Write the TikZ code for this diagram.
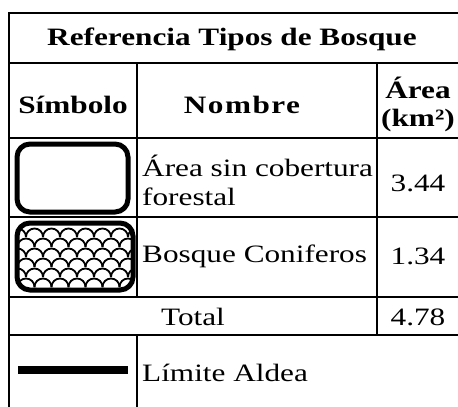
\documentclass[tikz,border=0pt]{standalone}
\usepackage{fontspec}
\setmainfont{Liberation Serif}[FakeStretch=1.25]
\usetikzlibrary{positioning}

\begin{document}
\begin{tikzpicture}[x=1pt,y=-1pt,
    linea/.style={line width=2pt},
    simbolo/.style={line width=5pt,rounded corners=13pt},
    cab/.style={font=\fontsize{25}{28}\selectfont\bfseries,inner sep=0pt,align=center},
    txt/.style={font=\fontsize{25}{29}\selectfont,inner sep=0pt,align=left}]
    \useasboundingbox (0,0) rectangle (458,407);
    % bordes de la tabla
    \foreach \y in {13,63,138,217,297,335}{%
            \draw[linea] (9,\y) -- (458,\y);
        }
    \draw[linea] (9,12) -- (9,407);
    \draw[linea] (137,63) -- (137,297);
    \draw[linea] (137,335) -- (137,407);
    \draw[linea] (377,63) -- (377,335);
    % encabezados
    \node[cab] (titulo) at (232,39) {Referencia Tipos de Bosque};
    \node[cab] (simb) at (73,105) {Símbolo};
    \node[cab] (nombre) at (242,105) {\addfontfeature{LetterSpace=6}Nombre};
    \node[cab] (area) at (418,104) {Área\\(km²)};
    % filas
    \draw[simbolo] (17,144) rectangle (128,212);
    \node[txt,anchor=west] (sincob) at (142,180) {Área sin cobertura\\forestal};
    \node[txt] (v1) at (418,183) {3.44};
    \begin{scope}
        \clip[rounded corners=13pt] (17,223) rectangle (133,290);
        \foreach \r in {0,...,6}{%
                \foreach \c in {0,...,8}{%
                        \draw[line width=1.8pt] ({9+\c*17+mod(\r,2)*8.5},{237+\r*10}) arc[start angle=180,end angle=360,radius=8.5];
                    }
            }
    \end{scope}
    \draw[simbolo] (17,223) rectangle (133,290);
    \node[txt,anchor=west] (conif) at (142,256) {Bosque Coniferos};
    \node[txt] (v2) at (418,256) {1.34};
    \node[txt] (total) at (193,317) {Total};
    \node[txt] (v3) at (418,317) {4.78};
    \draw[line width=8pt] (18,370) -- (128,370);
    \node[txt,anchor=west] (limite) at (142,373) {Límite Aldea};
\end{tikzpicture}
\end{document}
